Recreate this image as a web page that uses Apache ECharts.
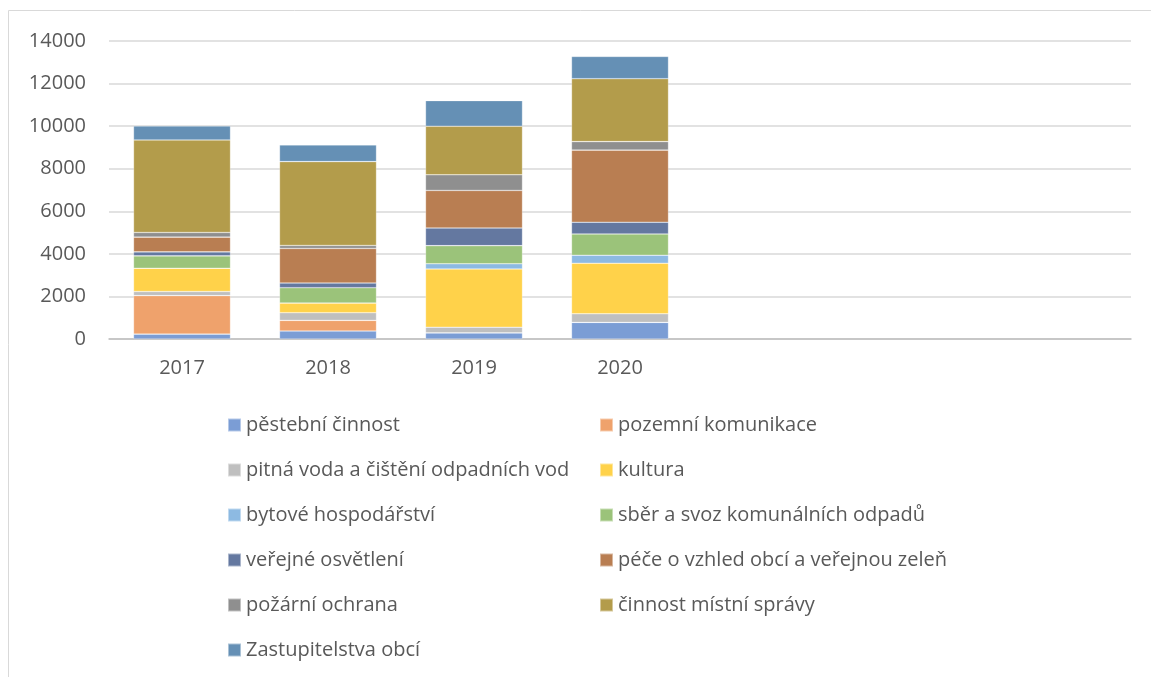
<!DOCTYPE html>
<html>
<head>
<meta charset="utf-8">
<script src="https://cdn.jsdelivr.net/npm/echarts@6/dist/echarts.min.js"></script>
<style>
  html, body { margin: 0; padding: 0; background: #fff; }
  #chart { width: 1151px; height: 677px; }
</style>
</head>
<body>
<div id="chart"></div>
<script>
// kategorie na ose x (Excel tam má i tři prázdné sloupce)
const years = ['2017', '2018', '2019', '2020', ' ', '  ', '   ']
const yTicks = { min: 0, max: 14000, interval: 2000 }

// hodnoty
const pestebni = [230, 375, 290, 780]
const pozemni = [1810, 500, 0, 0]
const pitnaVoda = [190, 360, 265, 405]
const kultura = [1095, 455, 2735, 2375]
const bytove = [0, 0, 245, 375]
const odpady = [580, 720, 850, 1000]
const osvetleni = [190, 220, 830, 550]
const zelen = [690, 1625, 1765, 3390]
const pozarni = [220, 140, 735, 400]
const sprava = [4345, 3940, 2280, 2955]
const zastupitelstva = [655, 780, 1205, 1045]

const names = [
  'pěstební činnost',
  'pozemní komunikace',
  'pitná voda a čištění odpadních vod',
  'kultura',
  'bytové hospodářství',
  'sběr a svoz komunálních odpadů',
  'veřejné osvětlení',
  'péče o vzhled obcí a veřejnou zeleň',
  'požární ochrana',
  'činnost místní správy',
  'Zastupitelstva obcí'
]
const values = [pestebni, pozemni, pitnaVoda, kultura, bytove, odpady, osvetleni, zelen, pozarni, sprava, zastupitelstva]
const colors = ['#7b9dd5', '#efa26c', '#bfbfbf', '#ffd24a', '#8dbae2', '#9bc37a',
  '#6478a0', '#b97e52', '#8f8f8f', '#b39c4b', '#6590b5']

const font = '"Open Sans", "Noto Sans", sans-serif'

var myChart = echarts.init(document.getElementById('chart'))

var option = {
  animation: false,
  color: colors,
  textStyle: { fontFamily: font },
  graphic: [{
    type: 'rect',
    shape: { x: 8.5, y: 10.5, width: 1200, height: 720 },
    style: { fill: 'none', stroke: '#d9d9d9', lineWidth: 1 },
    silent: true
  }],
  grid: { left: 109, right: 20, top: 41, bottom: 338 },
  legend: {
    left: 222,
    top: 404,
    width: 760,
    icon: 'rect',
    itemWidth: 13,
    itemHeight: 13,
    itemGap: 13,
    selectedMode: false,
    textStyle: {
      fontFamily: font,
      fontSize: 20,
      color: '#595959',
      width: 340,
      lineHeight: 32,
      overflow: 'none'
    },
    data: names
  },
  xAxis: {
    type: 'category',
    data: years,
    axisLine: { lineStyle: { color: '#bfbfbf', width: 1.5 } },
    axisTick: { show: false },
    axisLabel: { fontFamily: font, fontSize: 20, color: '#595959', margin: 19, interval: 0 }
  },
  yAxis: {
    type: 'value',
    min: yTicks.min,
    max: yTicks.max,
    interval: yTicks.interval,
    axisLine: { show: false },
    axisTick: { show: false },
    splitLine: { lineStyle: { color: '#d9d9d9', width: 1.5 } },
    axisLabel: {
      fontFamily: font, fontSize: 20, color: '#595959', margin: 23,
      formatter: v => String(v)
    }
  },
  series: names.map((n, i) => ({
    name: n,
    type: 'bar',
    stack: 'celkem',
    barWidth: 97,
    data: values[i],
    itemStyle: { borderColor: 'rgba(255,255,255,0.45)', borderWidth: 0.6 }
  }))
}

myChart.setOption(option)
</script>
</body>
</html>
